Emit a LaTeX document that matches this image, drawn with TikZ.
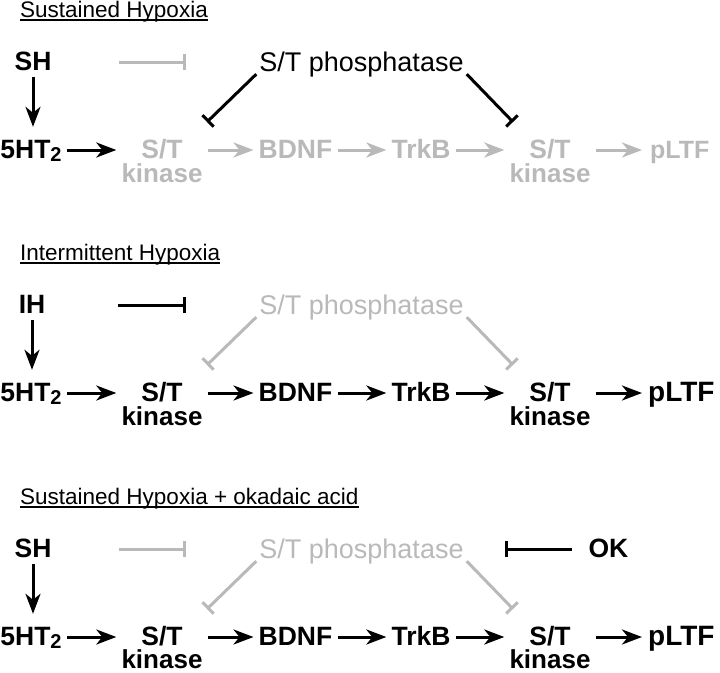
\documentclass[tikz,border=0pt]{standalone}
\usepackage{fontspec}
\setmainfont{Liberation Sans}
\usetikzlibrary{arrows.meta}
\definecolor{lg}{RGB}{185,185,185}
\tikzset{
  lab/.style={font=\fontsize{26.5}{24}\selectfont\bfseries, text height=16pt, text depth=0pt, inner xsep=3pt, inner ysep=3pt, anchor=base},
  stn/.style={lab, minimum width=87pt, inner ysep=1pt},
  kin/.style={font=\fontsize{26}{24}\selectfont\bfseries, inner sep=0pt, text depth=0pt, anchor=base},
  phos/.style={font=\fontsize{27}{30}\selectfont, text height=16pt, text depth=0pt, inner xsep=3pt, inner ysep=3pt, anchor=base},
  ttl/.style={font=\fontsize{22.5}{26}\selectfont, inner sep=0pt, anchor=base west},
  act/.style={line width=3pt, -{Stealth[length=20pt,width=15pt,inset=6pt]}, shorten <=2pt, shorten >=2pt},
  inh/.style={line width=3pt, -{Bar[width=16pt]}},
  uline/.style={line width=1.5pt},
  bigp/.style={lab, font=\fontsize{28}{24}\selectfont\bfseries, anchor=base west},
  smallp/.style={lab, font=\fontsize{25}{24}\selectfont\bfseries, anchor=base west},
}
\begin{document}
\begin{tikzpicture}[x=1pt,y=-1pt]
\useasboundingbox (0,0) rectangle (720,672);

% ---------- Section 1: Sustained Hypoxia ----------
\node[ttl] (ta) at (20,17.5) {Sustained Hypoxia};
\draw[uline] ([yshift=-2.5pt]ta.base west) -- ([yshift=-2.5pt]ta.base east);
\node[lab] (sha) at (33,70) {SH};
\node[lab] (hta) at (31,158) {5HT\raisebox{-3pt}{\fontsize{20}{20}\selectfont 2}};
\node[phos] (pha) at (361.5,71) {S/T phosphatase};
\node[stn, lg] (s1a) at (162,158) {S/T};
\node[kin, lg] (k1a) at (162,182) {kinase};
\node[lab, lg] (bda) at (295.5,158) {BDNF};
\node[lab, lg] (tra) at (421,158) {TrkB};
\node[stn, lg] (s2a) at (550,158) {S/T};
\node[kin, lg] (k2a) at (550,182) {kinase};
\node[smallp, lg] (pla) at (647,158) {pLTF};
\coordinate (dla) at (207,122);
\coordinate (dra) at (513,122);
\draw[act, shorten <=4pt, shorten >=12pt] (sha.south) -- (sha.south |- hta.north);
\draw[act] (hta.east) -- (s1a.west);
\draw[act, lg] (s1a.east) -- (bda.west);
\draw[act, lg] (bda.east) -- (tra.west);
\draw[act, lg] (tra.east) -- (s2a.west);
\draw[act, lg, shorten >=5pt] (s2a.east) -- (pla.west);
\draw[inh, lg, shorten <=64pt, shorten >=70.5pt] (sha.east) -- (sha.east -| pha.west);
\draw[inh] (pha.south west) -- (dla);
\draw[inh] (pha.south east) -- (dra);

% ---------- Section 2: Intermittent Hypoxia ----------
\begin{scope}[shift={(0,243)}]
\node[ttl] (tb) at (20,17.5) {Intermittent Hypoxia};
\draw[uline] ([yshift=-2.5pt]tb.base west) -- ([yshift=-2.5pt]tb.base east);
\node[lab] (ihb) at (32,70) {IH};
\node[lab] (htb) at (31,158) {5HT\raisebox{-3pt}{\fontsize{20}{20}\selectfont 2}};
\node[phos, lg] (phb) at (361.5,71) {S/T phosphatase};
\node[stn] (s1b) at (162,158) {S/T};
\node[kin] (k1b) at (162,182) {kinase};
\node[lab] (bdb) at (295.5,158) {BDNF};
\node[lab] (trb) at (421,158) {TrkB};
\node[stn] (s2b) at (550,158) {S/T};
\node[kin] (k2b) at (550,182) {kinase};
\node[bigp] (plb) at (645,158) {pLTF};
\coordinate (dlb) at (207,122);
\coordinate (drb) at (513,122);
\draw[act, shorten <=4pt, shorten >=12pt] (ihb.south) -- (ihb.south |- htb.north);
\draw[act] (htb.east) -- (s1b.west);
\draw[act] (s1b.east) -- (bdb.west);
\draw[act] (bdb.east) -- (trb.west);
\draw[act] (trb.east) -- (s2b.west);
\draw[act, shorten >=3pt] (s2b.east) -- (plb.west);
\draw[inh, shorten <=70pt, shorten >=70.5pt] (ihb.east) -- (ihb.east -| phb.west);
\draw[inh, lg] (phb.south west) -- (dlb);
\draw[inh, lg] (phb.south east) -- (drb);
\end{scope}

% ---------- Section 3: Sustained Hypoxia + okadaic acid ----------
\begin{scope}[shift={(0,487)}]
\node[ttl] (tc) at (20,17.5) {Sustained Hypoxia + okadaic acid};
\draw[uline] ([yshift=-2.5pt]tc.base west) -- ([yshift=-2.5pt]tc.base east);
\node[lab] (shc) at (33,70) {SH};
\node[lab] (htc) at (31,158) {5HT\raisebox{-3pt}{\fontsize{20}{20}\selectfont 2}};
\node[phos, lg] (phc) at (361.5,71) {S/T phosphatase};
\node[lab] (okc) at (608.5,70) {OK};
\node[stn] (s1c) at (162,158) {S/T};
\node[kin] (k1c) at (162,181) {kinase};
\node[lab] (bdc) at (295.5,158) {BDNF};
\node[lab] (trc) at (421,158) {TrkB};
\node[stn] (s2c) at (550,158) {S/T};
\node[kin] (k2c) at (550,181) {kinase};
\node[bigp] (plc) at (645,158) {pLTF};
\coordinate (dlc) at (207,122);
\coordinate (drc) at (513,122);
\draw[act, shorten <=4pt, shorten >=12pt] (shc.south) -- (shc.south |- htc.north);
\draw[act] (htc.east) -- (s1c.west);
\draw[act] (s1c.east) -- (bdc.west);
\draw[act] (bdc.east) -- (trc.west);
\draw[act] (trc.east) -- (s2c.west);
\draw[act, shorten >=3pt] (s2c.east) -- (plc.west);
\draw[inh, lg, shorten <=64pt, shorten >=70.5pt] (shc.east) -- (shc.east -| phc.west);
\draw[inh, lg] (phc.south west) -- (dlc);
\draw[inh, lg] (phc.south east) -- (drc);
\draw[inh, shorten <=13pt, shorten >=38.5pt] (okc.west) -- (okc.west -| phc.east);
\end{scope}
\end{tikzpicture}
\end{document}
